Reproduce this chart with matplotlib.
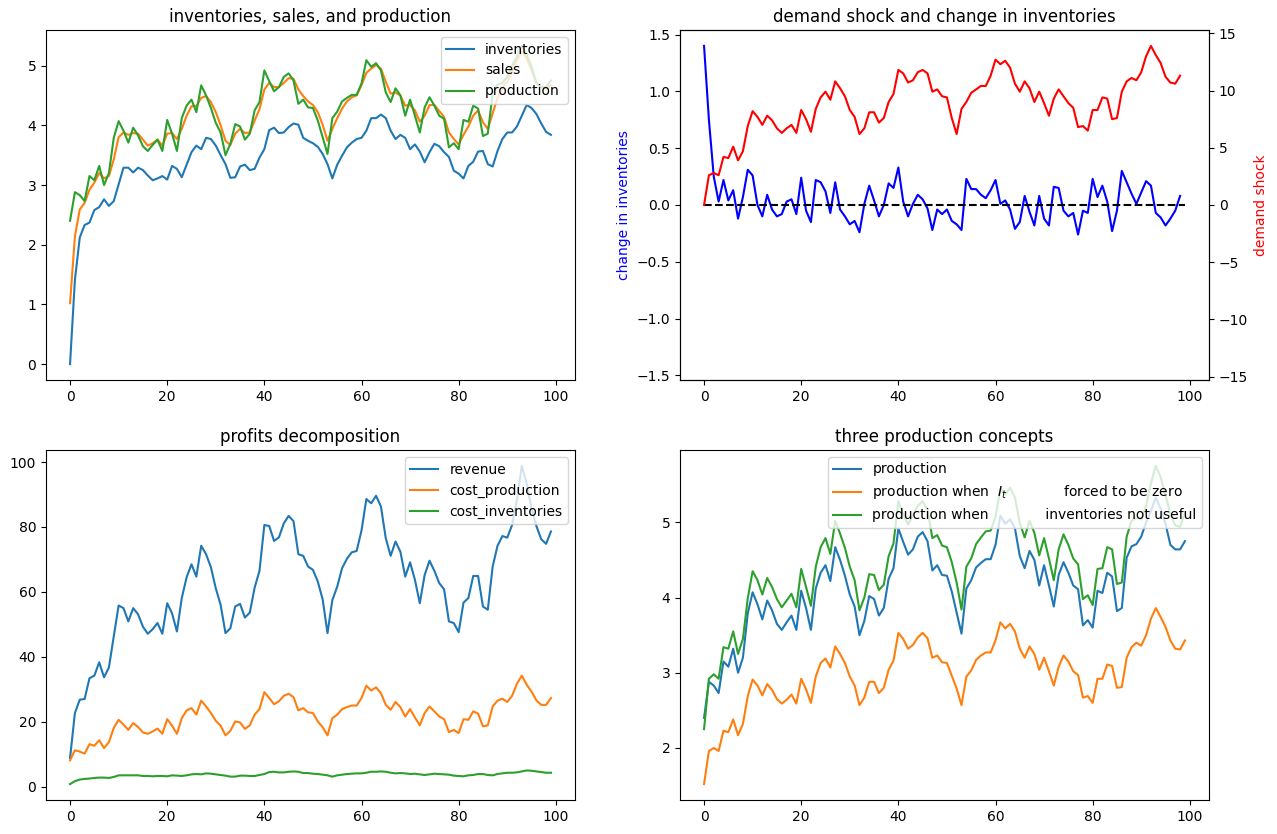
import numpy as np
import matplotlib.pyplot as plt

# panel 1: inventories, sales and production
inventories = [0.00, 1.41, 2.12, 2.33, 2.37, 2.58, 2.63, 2.76, 2.65, 2.73,
               3.01, 3.29, 3.29, 3.21, 3.29, 3.25, 3.16, 3.08, 3.11, 3.15,
               3.09, 3.32, 3.27, 3.13, 3.34, 3.55, 3.66, 3.60, 3.79, 3.77,
               3.66, 3.50, 3.35, 3.12, 3.13, 3.31, 3.34, 3.25, 3.27, 3.46,
               3.60, 3.92, 3.96, 3.87, 3.88, 3.97, 4.03, 4.01, 3.79, 3.74,
               3.70, 3.64, 3.52, 3.35, 3.11, 3.34, 3.49, 3.63, 3.71, 3.77,
               3.79, 3.91, 4.12, 4.12, 4.18, 4.12, 3.91, 3.77, 3.84, 3.79,
               3.60, 3.68, 3.56, 3.38, 3.55, 3.69, 3.65, 3.55, 3.47, 3.24,
               3.19, 3.11, 3.32, 3.39, 3.56, 3.57, 3.35, 3.31, 3.57, 3.77,
               3.88, 3.88, 3.98, 4.16, 4.34, 4.29, 4.19, 4.03, 3.89, 3.84]
sales = [1.02, 2.14, 2.59, 2.70, 2.92, 3.04, 3.20, 3.11, 3.15, 3.43,
         3.80, 3.88, 3.84, 3.87, 3.86, 3.76, 3.66, 3.70, 3.76, 3.66,
         3.86, 3.87, 3.77, 3.94, 4.16, 4.32, 4.32, 4.46, 4.49, 4.39,
         4.22, 4.00, 3.74, 3.67, 3.86, 3.94, 3.87, 3.88, 4.08, 4.27,
         4.60, 4.71, 4.64, 4.64, 4.71, 4.79, 4.78, 4.60, 4.49, 4.40,
         4.34, 4.22, 4.01, 3.74, 3.94, 4.12, 4.28, 4.40, 4.47, 4.50,
         4.67, 4.88, 4.95, 5.01, 4.95, 4.73, 4.53, 4.55, 4.50, 4.33,
         4.34, 4.25, 4.06, 4.16, 4.34, 4.34, 4.24, 4.14, 3.88, 3.77,
         3.68, 3.84, 3.98, 4.16, 4.25, 4.05, 3.94, 4.20, 4.46, 4.64,
         4.73, 4.89, 5.09, 5.23, 5.12, 4.92, 4.73, 4.64, 4.61, 4.67]
production = [2.40, 2.88, 2.83, 2.73, 3.15, 3.08, 3.32, 3.00, 3.20, 3.79,
              4.07, 3.91, 3.71, 3.96, 3.83, 3.65, 3.57, 3.67, 3.76, 3.57,
              4.09, 3.86, 3.57, 4.12, 4.33, 4.43, 4.22, 4.67, 4.50, 4.29,
              4.04, 3.88, 3.50, 3.69, 4.02, 3.98, 3.76, 3.86, 4.25, 4.39,
              4.92, 4.74, 4.57, 4.64, 4.81, 4.87, 4.75, 4.36, 4.43, 4.30,
              4.29, 4.08, 3.80, 3.52, 4.12, 4.23, 4.40, 4.46, 4.51, 4.51,
              4.70, 5.09, 4.98, 5.04, 4.92, 4.55, 4.39, 4.62, 4.50, 4.16,
              4.43, 4.16, 3.88, 4.30, 4.47, 4.33, 4.16, 4.11, 3.63, 3.70,
              3.60, 4.09, 4.06, 4.33, 4.28, 3.82, 3.86, 4.53, 4.68, 4.71,
              4.81, 5.00, 5.15, 5.33, 5.18, 4.98, 4.70, 4.64, 4.64, 4.75]

# panel 2: change in inventories (left) and demand shock (right)
delta_inv = [1.40, 0.75, 0.25, 0.03, 0.22, 0.04, 0.13, -0.12, 0.07, 0.31,
             0.26, 0.00, -0.10, 0.09, -0.04, -0.10, -0.08, 0.03, 0.05, -0.08,
             0.24, -0.05, -0.15, 0.22, 0.20, 0.12, -0.07, 0.20, -0.04, -0.10,
             -0.17, -0.14, -0.24, 0.01, 0.17, 0.04, -0.10, 0.00, 0.19, 0.15,
             0.33, 0.03, -0.10, 0.01, 0.09, 0.05, -0.03, -0.22, -0.04, -0.08,
             -0.04, -0.14, -0.17, -0.22, 0.23, 0.14, 0.14, 0.09, 0.06, 0.13,
             0.22, 0.01, 0.04, -0.04, -0.21, -0.15, 0.08, -0.06, -0.18, 0.08,
             -0.12, -0.18, 0.16, 0.15, -0.05, -0.10, -0.07, -0.26, -0.05, -0.07,
             0.23, 0.07, 0.17, 0.03, -0.23, -0.05, 0.30, 0.20, 0.10, 0.01,
             0.11, 0.21, 0.17, -0.07, -0.11, -0.18, -0.12, -0.05, 0.08]
demand_shock = [0.0, 2.6, 2.8, 2.6, 4.2, 4.1, 5.1, 3.9, 4.7, 6.9,
                8.2, 7.7, 7.0, 7.8, 7.4, 6.7, 6.3, 6.7, 7.0, 6.3,
                8.3, 7.5, 6.4, 8.4, 9.4, 9.9, 9.2, 10.8, 10.2, 9.5,
                8.3, 7.7, 6.2, 6.7, 8.1, 8.1, 7.2, 7.6, 9.0, 9.7,
                11.8, 11.5, 10.7, 10.9, 11.6, 11.8, 11.5, 9.9, 10.1, 9.5,
                9.4, 7.6, 6.2, 8.4, 9.0, 9.8, 10.1, 10.4, 10.4, 11.3,
                12.7, 12.3, 12.6, 12.0, 10.6, 9.9, 10.8, 10.2, 9.0, 9.9,
                8.9, 7.8, 9.3, 10.1, 9.5, 8.9, 8.5, 6.8, 6.9, 6.5,
                8.3, 8.3, 9.4, 9.3, 7.5, 7.6, 9.9, 10.8, 11.1, 10.9,
                11.6, 13.0, 13.9, 13.1, 12.4, 11.2, 10.7, 10.6, 11.3]
zero_line = [0.0] * 100

# panel 3: profits decomposition
revenue = [8.8, 22.7, 26.8, 27.0, 33.4, 34.2, 38.3, 33.7, 36.7, 46.3,
           55.8, 55.0, 50.9, 55.0, 53.1, 49.3, 47.1, 48.5, 50.4, 47.1,
           56.5, 53.4, 47.8, 58.1, 64.5, 68.5, 64.7, 74.2, 71.6, 67.6,
           61.1, 56.0, 47.3, 48.8, 55.5, 56.3, 52.1, 53.6, 61.3, 66.5,
           80.6, 80.3, 75.7, 76.8, 81.1, 83.4, 81.8, 71.6, 71.1, 67.8,
           66.8, 63.2, 57.7, 47.3, 57.5, 61.6, 67.3, 70.2, 72.2, 72.6,
           78.9, 88.6, 87.3, 89.6, 86.3, 76.5, 71.1, 75.5, 72.4, 64.7,
           69.1, 63.7, 56.5, 65.2, 69.6, 66.5, 62.7, 60.8, 50.9, 50.4,
           47.6, 56.7, 58.1, 64.9, 64.9, 55.5, 54.5, 67.8, 74.2, 77.2,
           76.7, 80.6, 88.3, 98.8, 93.4, 85.7, 80.3, 76.2, 74.8, 78.6]
cost_production = [8.1, 11.2, 10.8, 10.2, 13.1, 12.6, 14.3, 11.9, 13.7, 18.1,
                   20.6, 19.1, 17.5, 19.6, 18.4, 16.7, 16.3, 17.0, 17.9, 16.3,
                   20.8, 18.8, 16.3, 21.1, 23.5, 24.2, 22.2, 26.5, 24.7, 22.7,
                   20.3, 18.8, 15.8, 17.2, 20.1, 19.8, 17.8, 18.9, 22.2, 23.9,
                   29.1, 27.3, 25.4, 26.3, 28.0, 28.6, 27.6, 23.5, 24.2, 22.9,
                   22.7, 20.1, 18.3, 15.8, 21.1, 22.2, 23.9, 24.5, 25.0, 25.0,
                   27.3, 31.1, 29.6, 30.6, 28.8, 25.2, 23.7, 26.1, 24.5, 21.6,
                   23.9, 21.3, 18.9, 22.7, 24.7, 23.2, 21.6, 20.8, 16.8, 17.5,
                   16.5, 20.8, 20.6, 23.2, 22.5, 18.6, 18.9, 24.7, 26.5, 27.1,
                   26.1, 28.0, 31.7, 34.2, 31.4, 29.3, 26.6, 25.2, 25.2, 27.3]
cost_inventories = [0.8, 1.7, 2.2, 2.4, 2.5, 2.7, 2.8, 2.8, 2.7, 3.0,
                    3.5, 3.5, 3.5, 3.5, 3.5, 3.3, 3.3, 3.2, 3.3, 3.3,
                    3.2, 3.5, 3.4, 3.3, 3.5, 3.8, 3.9, 3.8, 4.1, 4.0,
                    3.8, 3.6, 3.4, 3.1, 3.1, 3.4, 3.4, 3.3, 3.3, 3.6,
                    3.9, 4.5, 4.6, 4.4, 4.4, 4.6, 4.7, 4.6, 4.2, 4.2,
                    4.0, 3.9, 3.7, 3.5, 3.1, 3.5, 3.7, 3.9, 4.0, 4.1,
                    4.1, 4.3, 4.6, 4.6, 4.7, 4.6, 4.3, 4.1, 4.2, 4.1,
                    3.9, 4.0, 3.8, 3.6, 3.8, 4.0, 3.9, 3.8, 3.7, 3.4,
                    3.3, 3.2, 3.5, 3.6, 3.9, 3.9, 3.6, 3.5, 3.9, 4.1,
                    4.3, 4.3, 4.4, 4.7, 5.0, 4.9, 4.7, 4.5, 4.3, 4.3]

# panel 4: three production concepts
y_no_inventory = [1.52, 1.96, 2.00, 1.96, 2.23, 2.21, 2.38, 2.17, 2.32, 2.69,
                  2.91, 2.83, 2.70, 2.85, 2.77, 2.65, 2.59, 2.64, 2.71, 2.59,
                  2.92, 2.78, 2.60, 2.95, 3.13, 3.19, 3.07, 3.35, 3.25, 3.13,
                  2.95, 2.83, 2.57, 2.67, 2.88, 2.88, 2.73, 2.80, 3.04, 3.16,
                  3.53, 3.45, 3.32, 3.37, 3.47, 3.53, 3.46, 3.20, 3.23, 3.14,
                  3.13, 2.96, 2.79, 2.57, 2.95, 3.03, 3.17, 3.23, 3.27, 3.27,
                  3.43, 3.67, 3.59, 3.65, 3.55, 3.32, 3.20, 3.35, 3.25, 3.04,
                  3.20, 3.02, 2.83, 3.08, 3.23, 3.15, 3.02, 2.97, 2.67, 2.69,
                  2.60, 2.92, 2.92, 3.11, 3.09, 2.80, 2.81, 3.20, 3.34, 3.40,
                  3.36, 3.50, 3.72, 3.86, 3.74, 3.61, 3.43, 3.32, 3.31, 3.43]
y_sales = [2.25, 2.92, 2.98, 2.92, 3.34, 3.32, 3.55, 3.25, 3.45, 3.99,
           4.35, 4.23, 4.04, 4.26, 4.14, 3.98, 3.87, 3.96, 4.05, 3.87,
           4.38, 4.14, 3.89, 4.41, 4.67, 4.79, 4.58, 5.02, 4.85, 4.66,
           4.41, 4.23, 3.83, 4.00, 4.31, 4.30, 4.10, 4.17, 4.55, 4.72,
           5.28, 5.11, 4.97, 5.10, 5.22, 5.28, 5.17, 4.79, 4.83, 4.69,
           4.67, 4.47, 4.20, 3.84, 4.41, 4.52, 4.71, 4.80, 4.88, 4.89,
           5.07, 5.45, 5.37, 5.46, 5.33, 4.99, 4.80, 5.02, 4.86, 4.56,
           4.79, 4.52, 4.23, 4.64, 4.84, 4.70, 4.52, 4.44, 3.98, 4.03,
           3.90, 4.38, 4.39, 4.67, 4.64, 4.18, 4.20, 4.81, 5.02, 5.06,
           5.04, 5.22, 5.52, 5.75, 5.60, 5.36, 5.11, 4.96, 4.94, 5.13]

T = len(production)

fig, ax = plt.subplots(2, 2, figsize=(12.77, 8.34), dpi=100)
fig.subplots_adjust(left=46 / 1277, right=1209 / 1277, top=1 - 30 / 834,
                    bottom=1 - 800 / 834, wspace=0.1985, hspace=0.2)

ax[0, 0].set_title('inventories, sales, and production')
ax[0, 0].plot(range(T), inventories, label='inventories')
ax[0, 0].plot(range(T), sales, label='sales')
ax[0, 0].plot(range(T), production, label='production')
ax[0, 0].legend(loc='upper right')

ax[0, 1].set_title('demand shock and change in inventories')
ax1 = ax[0, 1].twinx()
ax[0, 1].plot(range(len(delta_inv)), delta_inv, color='b')
ax[0, 1].plot(range(T), zero_line, 'k--')
ax1.plot(range(len(demand_shock)), demand_shock, color='r')
lim_l = 1.1 * np.max(np.abs(delta_inv))
lim_r = 1.1 * np.max(np.abs(demand_shock))
ax[0, 1].set_ylim(-lim_l, lim_l)
ax1.set_ylim(-lim_r, lim_r)
ax[0, 1].set_ylabel('change in inventories', color='b')
ax1.set_ylabel('demand shock', color='r')

ax[1, 0].set_title('profits decomposition')
ax[1, 0].plot(range(T), revenue, label='revenue')
ax[1, 0].plot(range(T), cost_production, label='cost_production')
ax[1, 0].plot(range(T), cost_inventories, label='cost_inventories')
ax[1, 0].legend(loc='upper right')

ax[1, 1].set_title('three production concepts')
ax[1, 1].plot(range(T), production, label='production')
ax[1, 1].plot(range(T), y_no_inventory,
              label='production when  $I_t$' + ' ' * 13 + 'forced to be zero')
ax[1, 1].plot(range(T), y_sales,
              label='production when' + ' ' * 13 + 'inventories not useful')
ax[1, 1].legend(loc='upper right')

fig.savefig('out.png', dpi=100)
